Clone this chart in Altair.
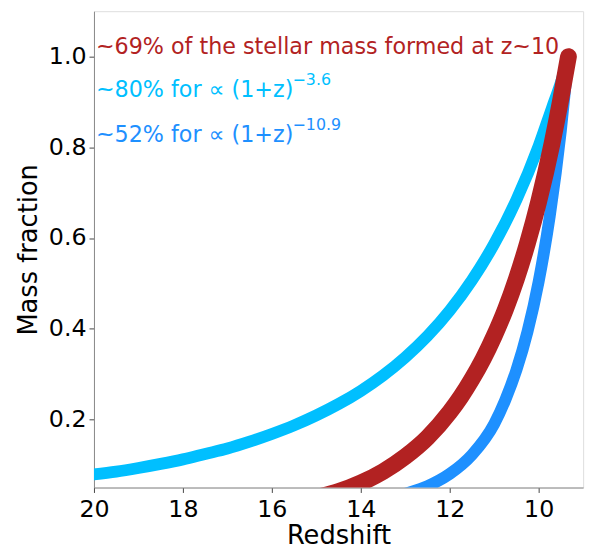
import altair as alt
import pandas as pd

# Data
cyan_z = [20, 19.5, 19, 18.5, 18, 17.5, 17, 16.5, 16, 15.5, 15, 14.5, 14, 13.5, 13,
          12.5, 12, 11.5, 11, 10.5, 10, 9.7, 9.5, 9.33]
cyan_f = [0.079, 0.085, 0.093, 0.102, 0.112, 0.124, 0.136, 0.151, 0.168, 0.187, 0.209,
          0.234, 0.263, 0.297, 0.337, 0.384, 0.440, 0.507, 0.587, 0.684, 0.803, 0.887,
          0.943, 1.0]

red_z = [15.0, 14.5, 14.0, 13.5, 13.0, 12.5, 12.0, 11.75, 11.5, 11.25, 11.0, 10.75,
         10.5, 10.25, 10.0, 9.7, 9.5, 9.33]
red_f = [0.028, 0.041, 0.060, 0.085, 0.118, 0.160, 0.216, 0.250, 0.289, 0.333, 0.384,
         0.442, 0.510, 0.589, 0.680, 0.808, 0.907, 1.0]

blue_z = [13.2, 13.0, 12.5, 12.0, 11.5, 11.0, 10.75, 10.5, 10.25, 10.0, 9.75, 9.5, 9.33]
blue_f = [0.030, 0.036, 0.053, 0.080, 0.122, 0.190, 0.243, 0.309, 0.394, 0.504, 0.648,
          0.837, 1.0]

x_ticks = [20, 18, 16, 14, 12, 10]
y_ticks = [0.2, 0.4, 0.6, 0.8, 1.0]

FONT = "DejaVu Sans"

xscale = alt.Scale(domain=[9, 20], reverse=True, nice=False, zero=False)
yscale = alt.Scale(domain=[0.05, 1.1], nice=False, zero=False)

xaxis = alt.Axis(values=x_ticks, format="d", title="Redshift", grid=False,
                 labelFontSize=24, titleFontSize=26, labelFont=FONT, titleFont=FONT,
                 titleFontWeight="normal", labelColor="black", titleColor="black",
                 tickSize=5, tickColor="#444", domainColor="#888", labelPadding=5,
                 titlePadding=2, labelFlush=False)
yaxis = alt.Axis(values=y_ticks, format=".1f", title="Mass fraction", grid=False,
                 labelFontSize=24, titleFontSize=26, labelFont=FONT, titleFont=FONT,
                 titleFontWeight="normal", labelColor="black", titleColor="black",
                 tickSize=5, tickColor="#444", domainColor="#888", labelPadding=3,
                 titlePadding=7, labelFlush=False)


def curve(zs, fs, color, width):
    df = pd.DataFrame({"z": zs, "f": fs})
    return alt.Chart(df).mark_line(
        color=color, strokeWidth=width, strokeCap="round", strokeJoin="round",
        interpolate="monotone", clip=True
    ).encode(
        x=alt.X("z:Q", scale=xscale, axis=xaxis),
        y=alt.Y("f:Q", scale=yscale, axis=yaxis),
    )


cyan = curve(cyan_z, cyan_f, "#00BFFF", 12)
blue = curve(blue_z, blue_f, "#1E90FF", 12)
red = curve(red_z, red_f, "#B22222", 17)


def label(text, y, color, size, dx=2, dy=0):
    return alt.Chart(pd.DataFrame({"t": [text]})).mark_text(
        align="left", baseline="middle", font=FONT, fontSize=size, color=color,
        dx=dx, dy=dy
    ).encode(x=alt.datum(20), y=alt.datum(y), text="t:N")


labels = (
    label("~69% of the stellar mass formed at z~10", 1.02, "#B22222", 22.5)
    + label("~80% for  \u221d (1+z)", 0.926, "#00BFFF", 22.5)
    + label("\u22123.6", 0.926, "#00BFFF", 16, dx=201, dy=-10)
    + label("~52% for  \u221d (1+z)", 0.828, "#1E90FF", 22.5)
    + label("\u221210.9", 0.828, "#1E90FF", 16, dx=201, dy=-10)
)

chart = alt.layer(cyan, blue, red, labels).properties(
    width=495, height=482,
    autosize=alt.AutoSizeParams(type="none"),
    padding={"left": 87, "top": 0, "right": 10, "bottom": 62},
).configure_view(stroke="#888", strokeWidth=1).configure(background="white")

chart.save("out.html", embed_options={"renderer": "svg", "actions": False})
